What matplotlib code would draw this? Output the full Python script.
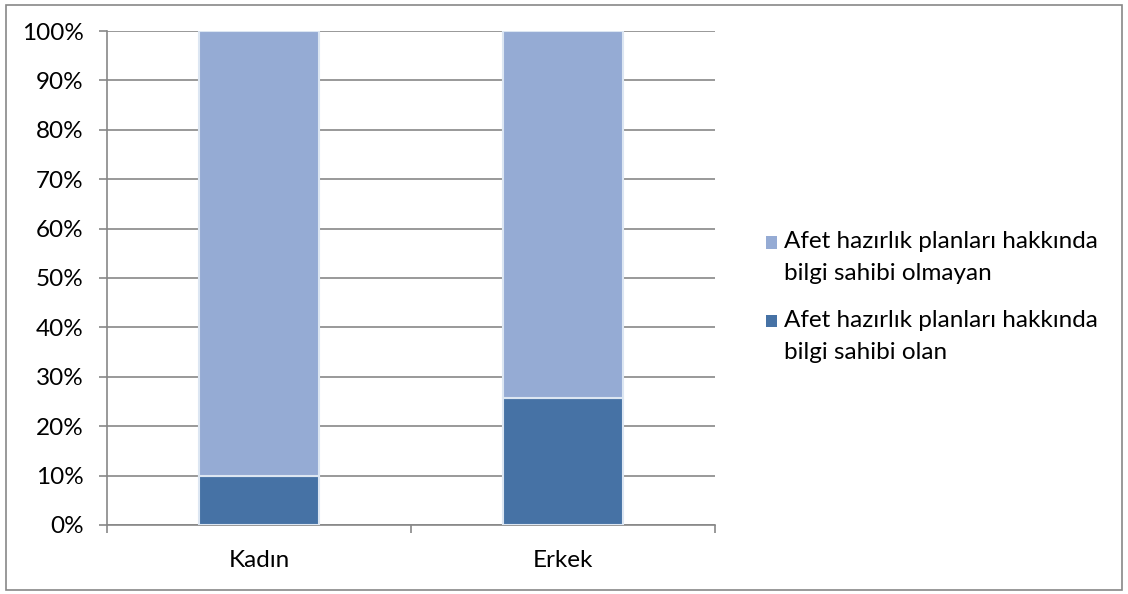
import matplotlib.pyplot as plt
from matplotlib.patches import Rectangle
from matplotlib.container import BarContainer
from matplotlib.legend_handler import HandlerPatch, update_from_first_child
from matplotlib.ticker import FuncFormatter, FixedLocator

plt.rcParams['font.family'] = ['Lato', 'DejaVu Sans']

# Veriler
kategoriler = ["Kadın", "Erkek"]
olan = [9.9, 25.7]
olmayan = [90.1, 74.3]
etiket_olan = "Afet hazırlık planları hakkında\nbilgi sahibi olan"
etiket_olmayan = "Afet hazırlık planları hakkında\nbilgi sahibi olmayan"

koyu = "#4672A5"
acik = "#95ABD4"
gri = "#878787"
yazi = 17.5

fig = plt.figure(figsize=(11.28, 5.94), dpi=100)
ax = fig.add_axes([0.0949, 0.1162, 0.5390, 0.8316])

x = list(range(len(kategoriler)))
ax.bar(x, olan, width=0.395, color=koyu, edgecolor="#DCE6F2", linewidth=1.5,
       label=etiket_olan, zorder=3)
ax.bar(x, olmayan, width=0.395, bottom=olan, color=acik, edgecolor="#DCE6F2",
       linewidth=1.5, label=etiket_olmayan, zorder=3)

ax.set_xlim(-0.5, 1.5)
ax.set_ylim(0, 100)
ax.set_yticks(range(0, 101, 10))
ax.yaxis.set_major_formatter(FuncFormatter(lambda v, p: f"{v:.0f}%"))
ax.grid(axis="y", color=gri, linewidth=1.2, zorder=0)

ax.set_xticks(x)
ax.set_xticklabels(kategoriler)
ax.xaxis.set_minor_locator(FixedLocator([-0.5, 0.5, 1.5]))
ax.tick_params(axis="x", which="major", length=0, pad=18, labelsize=yazi)
ax.tick_params(axis="x", which="minor", length=6, color=gri, width=1.2)
ax.tick_params(axis="y", length=6, color=gri, width=1.2, labelsize=yazi, pad=11)

for s in ["top", "right"]:
    ax.spines[s].set_visible(False)
for s in ["left", "bottom"]:
    ax.spines[s].set_color(gri)
    ax.spines[s].set_linewidth(1.2)


# Legend-Kästchen auf Höhe der ersten Textzeile
def kare(legend, orig_handle, xdescent, ydescent, width, height, fontsize):
    return Rectangle((-xdescent, -ydescent + 11), width, height)


h, l = ax.get_legend_handles_labels()
leg = fig.legend(h[::-1], l[::-1], loc="center left", bbox_to_anchor=(0.660, 0.50),
                 frameon=False, fontsize=yazi, handlelength=0.42, handleheight=0.42,
                 handletextpad=0.3, labelspacing=1.05,
                 handler_map={BarContainer: HandlerPatch(patch_func=kare,
                                                         update_func=update_from_first_child)})
for p in leg.get_patches():
    p.set_edgecolor("none")
for t in leg.get_texts():
    t.set_linespacing(1.65)

fig.add_artist(Rectangle((0.005, 0.007), 0.99, 0.985, transform=fig.transFigure,
                         fill=False, edgecolor=gri, linewidth=1.2))

fig.savefig("out.png", dpi=100)
